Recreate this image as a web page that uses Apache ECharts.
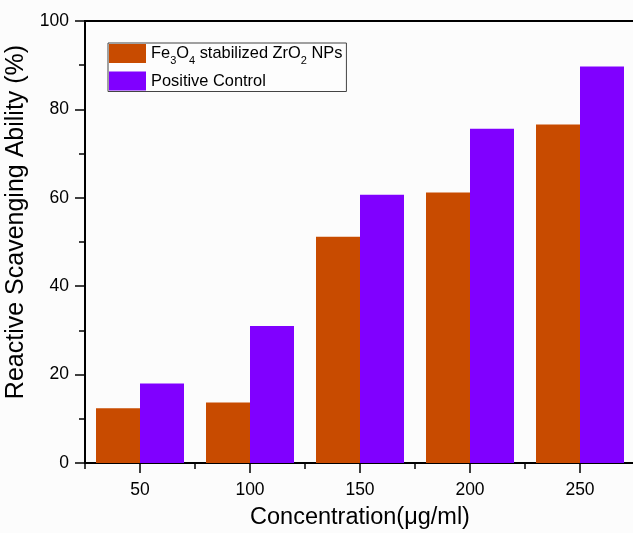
<!DOCTYPE html>
<html>
<head>
<meta charset="utf-8">
<script src="https://cdn.jsdelivr.net/npm/echarts@6/dist/echarts.min.js"></script>
<style>html,body{margin:0;padding:0;background:#fcfcfc;}#c{width:633px;height:533px;}</style>
</head>
<body>
<div id="c"></div>
<script>
const concentrations = [50, 100, 150, 200, 250];
const fe3o4Values = [12.4, 13.7, 51.2, 61.2, 76.6];
const positiveControl = [18.0, 31.0, 60.7, 75.6, 89.7];
const yTicks = [0, 20, 40, 60, 80, 100];
const seriesNames = ['Fe3O4 stabilized ZrO2 NPs', 'Positive Control'];

const chart = echarts.init(document.getElementById('c'), null, {renderer: 'canvas'});
const font = 'Liberation Sans, Arial, sans-serif';
chart.setOption({
  backgroundColor: '#fcfcfc',
  animation: false,
  grid: {left: 85, top: 21, width: 550, height: 442, containLabel: false, outerBoundsMode: 'none',
         show: true, borderColor: '#000', borderWidth: 2, backgroundColor: 'transparent'},
  legend: {
    orient: 'vertical', left: 108, top: 43,
    itemWidth: 37, itemHeight: 19, itemGap: 5,
    borderColor: '#444', borderWidth: 1, borderRadius: 0,
    padding: [1, 4, 1, 1],
    backgroundColor: '#fdfdfd',
    icon: 'rect',
    textStyle: {
      fontFamily: font, fontSize: 16.4, color: '#000',
      rich: {
        a: {fontFamily: font, fontSize: 16.4, color: '#000'},
        s: {fontFamily: font, fontSize: 11, color: '#000', verticalAlign: 'bottom', padding: [0, 0, -5, 0]}
      }
    },
    formatter: function (name) {
      if (name === seriesNames[0]) {
        return '{a|Fe}{s|3}{a|O}{s|4}{a| stabilized ZrO}{s|2}{a| NPs}';
      }
      return '{a|' + name + '}';
    },
    data: seriesNames
  },
  xAxis: [{
    type: 'value', min: 25, max: 275, interval: 25,
    name: 'Concentration(μg/ml)', nameLocation: 'middle', nameGap: 43,
    nameTextStyle: {fontFamily: font, fontSize: 23.5, color: '#000'},
    axisLine: {show: true, lineStyle: {color: '#000', width: 2}},
    axisTick: {show: true, length: 6, lineStyle: {color: '#000', width: 1.5}},
    axisLabel: {
      fontFamily: font, fontSize: 17.5, color: '#000', margin: 18,
      formatter: function (v) { return (v % 50 === 0 && concentrations.indexOf(v) >= 0) ? String(v) : ''; }
    },
    splitLine: {show: false}
  }, {
    type: 'value', min: 25, max: 275, position: 'bottom',
    axisLine: {show: false},
    axisTick: {show: true, length: 10, customValues: concentrations, lineStyle: {color: '#000', width: 1.5}},
    axisLabel: {show: false},
    splitLine: {show: false}
  }],
  yAxis: {
    type: 'value', min: 0, max: 100, interval: 20,
    name: 'Reactive Scavenging Ability (%)', nameLocation: 'middle', nameGap: 34,
    nameTextStyle: {fontFamily: font, fontSize: 25, color: '#000', padding: [0, 0, 0, 40]},
    axisLine: {show: true, lineStyle: {color: '#000', width: 2}},
    axisTick: {show: true, length: 10, lineStyle: {color: '#000', width: 1.5}},
    minorTick: {show: true, splitNumber: 2, length: 6, lineStyle: {color: '#000', width: 1.5}},
    axisLabel: {
      fontFamily: font, fontSize: 17.5, color: '#000', margin: 16,
      formatter: function (v) { return yTicks.indexOf(v) >= 0 ? String(v) : ''; }
    },
    splitLine: {show: false}
  },
  series: [{
    name: seriesNames[0], type: 'bar', xAxisIndex: 0,
    data: concentrations.map((c, i) => [c, fe3o4Values[i]]),
    barWidth: 44, barGap: '0%',
    itemStyle: {color: '#c84b00'}
  }, {
    name: seriesNames[1], type: 'bar', xAxisIndex: 0,
    data: concentrations.map((c, i) => [c, positiveControl[i]]),
    barWidth: 44, barGap: '0%',
    itemStyle: {color: '#8000ff'}
  }]
});
</script>
</body>
</html>
